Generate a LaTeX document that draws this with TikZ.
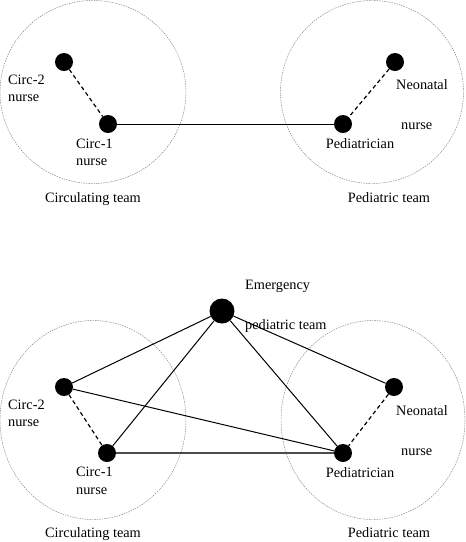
\documentclass[tikz,border=0pt]{standalone}
\usepackage{fontspec}
\setmainfont{Liberation Serif}
\usetikzlibrary{shapes.geometric}
\begin{document}
\begin{tikzpicture}[x=1pt,y=-1pt,
  dot/.style={circle,fill=black,inner sep=0pt,minimum size=18pt},
  bigdot/.style={circle,fill=black,inner sep=0pt,minimum size=25pt},
  team/.style={ellipse,draw=gray,line width=0.45pt,dash pattern=on 1.5pt off 1pt,inner sep=0pt},
  lbl/.style={font=\fontsize{14.3}{17}\selectfont,inner sep=0pt},
  tie/.style={line width=1pt},
  weak/.style={line width=1.2pt,dash pattern=on 4pt off 3pt}]
\useasboundingbox (0,0) rectangle (466,542);
% top group
\node[team,minimum width=186pt,minimum height=183pt] (tcl) at (93,92) {};
\node[team,minimum width=183pt,minimum height=183pt] (tcr) at (372,92) {};
\node[dot] (tc2) at (64,62) {};
\node[dot] (tc1) at (108,124) {};
\node[dot] (tnn) at (395,62) {};
\node[dot] (tpd) at (343,124) {};
\draw[weak] (tc2) -- (tc1);
\draw[weak] (tnn) -- (tpd);
\draw[tie] (tc1) -- (tpd);
\node[lbl,anchor=mid west] (tc2a) at (8,82) {Circ-2};
\node[lbl,anchor=mid west] (tc2b) at (8,99) {nurse};
\node[lbl,anchor=mid west] (tc1a) at (76,146) {Circ-1};
\node[lbl,anchor=mid west] (tc1b) at (76,163) {nurse};
\node[lbl,anchor=mid] (tct) at (93,200) {Circulating team};
\node[lbl,anchor=mid west] (tnna) at (396,87) {Neonatal};
\node[lbl,anchor=mid west] (tnnb) at (401,127) {nurse};
\node[lbl,anchor=mid] (tpda) at (360,146) {Pediatrician};
\node[lbl,anchor=mid] (tpt) at (389,200) {Pediatric team};
% bottom group
\node[team,minimum width=186pt,minimum height=199pt] (bcl) at (93,420) {};
\node[team,minimum width=184pt,minimum height=199pt] (bcr) at (373,420) {};
\node[bigdot] (bem) at (222,311) {};
\node[dot] (bc2) at (64,387) {};
\node[dot] (bc1) at (107,453) {};
\node[dot] (bnn) at (394,387) {};
\node[dot] (bpd) at (343,453) {};
\draw[tie] (bem) -- (bc2);
\draw[tie] (bem) -- (bc1);
\draw[tie] (bem) -- (bpd);
\draw[tie] (bem) -- (bnn);
\draw[tie] (bc2) -- (bpd);
\draw[line width=1.4pt,black!70] (bc1) -- (bpd);
\draw[weak] (bc2) -- (bc1);
\draw[weak] (bnn) -- (bpd);
\node[lbl,anchor=mid west] (bc2a) at (8,407) {Circ-2};
\node[lbl,anchor=mid west] (bc2b) at (8,424) {nurse};
\node[lbl,anchor=mid west] (bc1a) at (76,474) {Circ-1};
\node[lbl,anchor=mid west] (bc1b) at (76,492) {nurse};
\node[lbl,anchor=mid] (bct) at (93,535) {Circulating team};
\node[lbl,anchor=mid west] (bema) at (245,287) {Emergency};
\node[lbl,anchor=mid west] (bemb) at (245,327) {pediatric team};
\node[lbl,anchor=mid west] (bnna) at (396,413) {Neonatal};
\node[lbl,anchor=mid west] (bnnb) at (401,453) {nurse};
\node[lbl,anchor=mid] (bpda) at (360,475) {Pediatrician};
\node[lbl,anchor=mid] (bpt) at (389,535) {Pediatric team};
\end{tikzpicture}
\end{document}
